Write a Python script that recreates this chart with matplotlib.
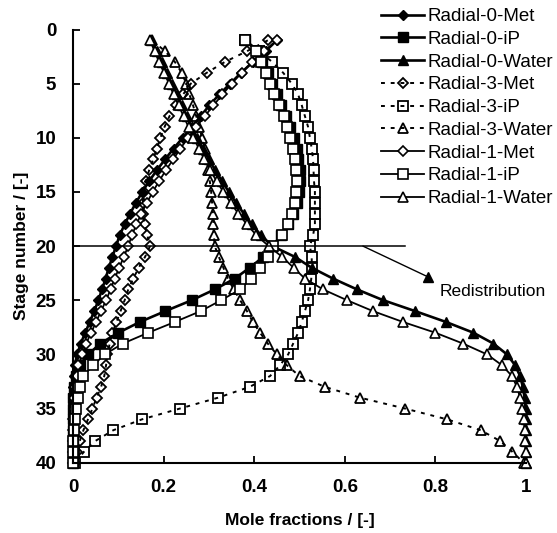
import numpy as np
import matplotlib
matplotlib.use("Agg")
import matplotlib.pyplot as plt

plt.rcParams['font.family'] = ['Liberation Sans', 'DejaVu Sans']

# ---------------- data ----------------
stages = list(range(1, 41))

r0_met = [0.450, 0.425, 0.397, 0.371, 0.347, 0.323, 0.301, 0.282, 0.262, 0.242,
          0.222, 0.203, 0.185, 0.168, 0.153, 0.139, 0.126, 0.114, 0.103, 0.095,
          0.087, 0.079, 0.072, 0.064, 0.056, 0.047, 0.037, 0.027, 0.017, 0.009,
          0.004, 0.002, 0.001, 0.0, 0.0, 0.0, 0.0, 0.0, 0.0, 0.0]
r0_ip = [0.380, 0.410, 0.418, 0.430, 0.440, 0.450, 0.460, 0.470, 0.480, 0.488,
         0.494, 0.497, 0.500, 0.500, 0.498, 0.494, 0.486, 0.475, 0.460, 0.440,
         0.420, 0.390, 0.357, 0.313, 0.262, 0.204, 0.148, 0.100, 0.060, 0.034,
         0.015, 0.007, 0.003, 0.001, 0.0, 0.0, 0.0, 0.0, 0.0, 0.0]
r0_water = [0.172, 0.186, 0.197, 0.207, 0.218, 0.229, 0.240, 0.251, 0.262, 0.274,
            0.287, 0.300, 0.314, 0.329, 0.344, 0.360, 0.377, 0.395, 0.415, 0.440,
            0.490, 0.527, 0.574, 0.627, 0.685, 0.755, 0.823, 0.884, 0.928, 0.958,
            0.976, 0.987, 0.993, 0.997, 0.999, 1.0, 1.0, 1.0, 1.0, 1.0]

r3_met = [0.430, 0.384, 0.335, 0.295, 0.260, 0.243, 0.228, 0.213, 0.202, 0.193,
          0.185, 0.177, 0.168, 0.161, 0.156, 0.154, 0.155, 0.158, 0.164, 0.170,
          0.159, 0.145, 0.133, 0.122, 0.114, 0.105, 0.096, 0.087, 0.081, 0.076,
          0.073, 0.069, 0.062, 0.052, 0.043, 0.033, 0.023, 0.015, 0.009, 0.004]
r3_ip = [0.380, 0.410, 0.440, 0.464, 0.483, 0.497, 0.505, 0.512, 0.519, 0.523,
         0.527, 0.530, 0.531, 0.532, 0.534, 0.534, 0.534, 0.534, 0.530, 0.523,
         0.527, 0.527, 0.526, 0.523, 0.519, 0.512, 0.505, 0.497, 0.486, 0.475,
         0.457, 0.435, 0.390, 0.320, 0.236, 0.152, 0.089, 0.049, 0.024, 0.005]
r3_water = [0.175, 0.203, 0.225, 0.240, 0.250, 0.257, 0.265, 0.272, 0.279, 0.285,
            0.291, 0.295, 0.298, 0.302, 0.305, 0.307, 0.309, 0.310, 0.311, 0.313,
            0.322, 0.332, 0.342, 0.355, 0.369, 0.384, 0.397, 0.413, 0.430, 0.450,
            0.472, 0.500, 0.556, 0.634, 0.733, 0.826, 0.900, 0.943, 0.970, 0.995]

r1_met = [0.450, 0.422, 0.396, 0.372, 0.350, 0.330, 0.310, 0.291, 0.272, 0.254,
          0.237, 0.221, 0.205, 0.190, 0.176, 0.163, 0.151, 0.140, 0.130, 0.122,
          0.112, 0.102, 0.092, 0.083, 0.073, 0.062, 0.051, 0.040, 0.029, 0.020,
          0.012, 0.008, 0.005, 0.003, 0.002, 0.001, 0.0, 0.0, 0.0, 0.0]
r1_ip = [0.380, 0.405, 0.415, 0.425, 0.435, 0.444, 0.455, 0.465, 0.473, 0.480,
         0.486, 0.490, 0.493, 0.494, 0.493, 0.490, 0.484, 0.475, 0.461, 0.442,
         0.430, 0.412, 0.393, 0.369, 0.327, 0.282, 0.225, 0.166, 0.110, 0.070,
         0.045, 0.022, 0.015, 0.010, 0.006, 0.004, 0.002, 0.001, 0.0, 0.0]
r1_water = [0.170, 0.180, 0.190, 0.201, 0.212, 0.222, 0.233, 0.244, 0.255, 0.266,
            0.278, 0.290, 0.303, 0.317, 0.332, 0.348, 0.365, 0.384, 0.405, 0.432,
            0.462, 0.487, 0.512, 0.552, 0.605, 0.662, 0.728, 0.800, 0.861, 0.914,
            0.947, 0.969, 0.980, 0.987, 0.992, 0.995, 0.997, 0.998, 0.999, 1.000]

series_labels = ["Radial-0-Met", "Radial-0-iP", "Radial-0-Water",
                 "Radial-3-Met", "Radial-3-iP", "Radial-3-Water",
                 "Radial-1-Met", "Radial-1-iP", "Radial-1-Water"]
x_ticks = [0, 0.2, 0.4, 0.6, 0.8, 1]
x_ticklabels = ["0", "0.2", "0.4", "0.6", "0.8", "1"]
y_ticks = [0, 5, 10, 15, 20, 25, 30, 35, 40]
redistribution_stage = 20
redistribution_label = "Redistribution"

# ---------------- figure ----------------
W, H = 557, 533
fig = plt.figure(figsize=(W / 100, H / 100), dpi=100)
ax = fig.add_axes([73 / W, 1 - 462.7 / H, 453 / W, 433.2 / H])

data = [r0_met, r0_ip, r0_water, r3_met, r3_ip, r3_water, r1_met, r1_ip, r1_water]
dash = (0, (2.0, 3.0))
styles = [
    dict(ls='-', lw=1.9, marker='D', ms=4.9, mfc='black', mec='black'),
    dict(ls='-', lw=1.9, marker='s', ms=6.6, mfc='black', mec='black'),
    dict(ls='-', lw=1.9, marker='^', ms=7.2, mfc='black', mec='black'),
    dict(ls=dash, lw=1.4, marker='D', ms=4.9, mfc='none', mec='black', mew=1.3),
    dict(ls=dash, lw=1.4, marker='s', ms=6.6, mfc='none', mec='black', mew=1.3),
    dict(ls=dash, lw=1.4, marker='^', ms=7.2, mfc='none', mec='black', mew=1.3),
    dict(ls='-', lw=1.3, marker='D', ms=4.9, mfc='white', mec='black', mew=1.2),
    dict(ls='-', lw=1.3, marker='s', ms=6.6, mfc='white', mec='black', mew=1.2),
    dict(ls='-', lw=1.3, marker='^', ms=7.2, mfc='white', mec='black', mew=1.2),
]

handles = []
for vals, lab, st in zip(data, series_labels, styles):
    h, = ax.plot(vals, stages, color='black', label=lab, clip_on=False, **st)
    handles.append(h)

# redistribution marker line
ax.plot([0, 0.733], [redistribution_stage, redistribution_stage], color='black', lw=1.1,
        clip_on=False)
ax.annotate("", xy=(0.784, 22.85), xytext=(0.64, redistribution_stage),
            arrowprops=dict(arrowstyle='-', color='black', lw=1.0, shrinkA=0, shrinkB=0))
ax.plot([0.784], [22.85], marker='^', ms=7.2, color='black', clip_on=False)
ax.text(0.81, 24.2, redistribution_label, fontsize=12.5, va='center', ha='left')

ax.set_xlim(0, 1)
ax.set_ylim(40, 0)
ax.set_xticks(x_ticks)
ax.set_xticklabels(x_ticklabels)
ax.set_yticks(y_ticks)
for s in ['top', 'right']:
    ax.spines[s].set_visible(False)
for s in ['left', 'bottom']:
    ax.spines[s].set_linewidth(1.5)
ax.tick_params(direction='in', length=5, width=1.3, labelsize=13.5, pad=12)
for lbl in ax.get_xticklabels() + ax.get_yticklabels():
    lbl.set_fontweight('bold')
ax.set_xlabel("Mole fractions / [-]", fontsize=12.5, fontweight='bold', labelpad=12)
ax.set_ylabel("Stage number / [-]", fontsize=12.5, fontweight='bold', labelpad=5)

leg = fig.legend(handles=handles, loc='upper left', bbox_to_anchor=(381 / W, 1 - 8 / H),
                 frameon=False, fontsize=13.5, numpoints=1, handlelength=2.3,
                 handletextpad=0.2, labelspacing=0.3, borderpad=0, borderaxespad=0)

fig.savefig("out.png", dpi=100)
